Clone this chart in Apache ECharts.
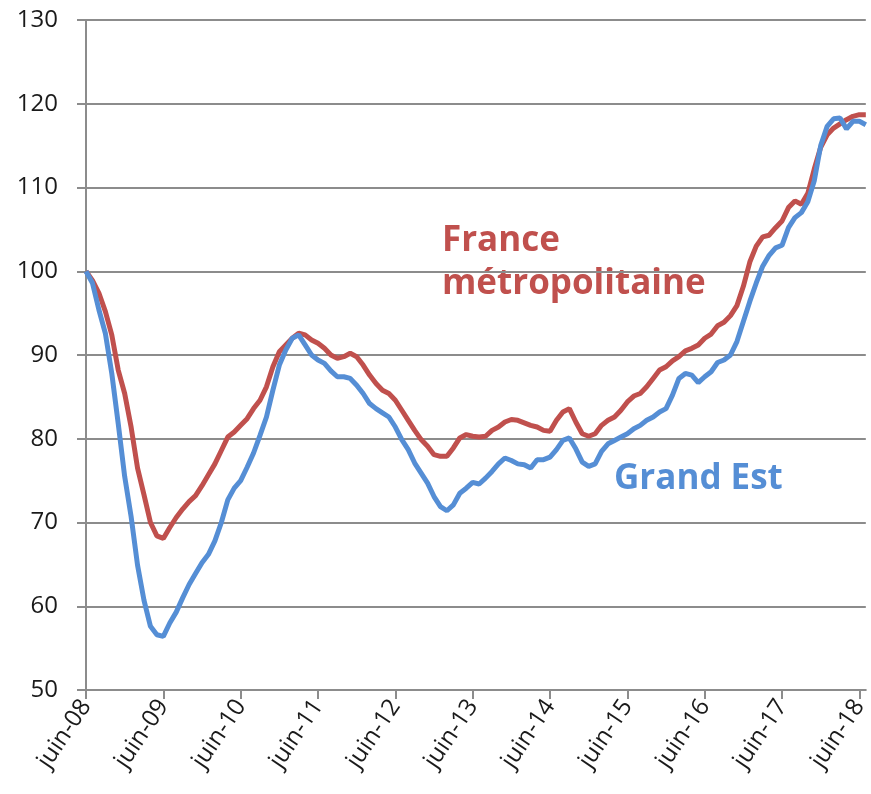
<!DOCTYPE html>
<html>
<head>
<meta charset="utf-8">
<script src="https://cdn.jsdelivr.net/npm/echarts@6/dist/echarts.min.js"></script>
<style>
html,body{margin:0;padding:0;background:#fff;}
#chart{width:871px;height:794px;}
</style>
</head>
<body>
<div id="chart"></div>
<script>
// Month names and years used to build the category labels (juin-08 .. juil-18)
var monthNames = ['janv','févr','mars','avr','mai','juin','juil','août','sept','oct','nov','déc'];
var startYear = 2008, startMonth = 5, monthCount = 122;

// France métropolitaine (base 100 = juin-08)
var france = [
100.0, 98.9, 97.4, 95.2, 92.4, 88.2, 85.4, 81.4, 76.5, 73.3, 70.0, 68.4, 68.1,
69.4, 70.6, 71.6, 72.5, 73.2, 74.4, 75.7, 77.0, 78.6, 80.2, 80.8, 81.6,
82.4, 83.6, 84.6, 86.2, 88.6, 90.4, 91.2, 92.0, 92.6, 92.4, 91.8, 91.4,
90.8, 90.0, 89.6, 89.8, 90.2, 89.8, 88.8, 87.6, 86.6, 85.8, 85.4, 84.6,
83.4, 82.2, 81.0, 79.9, 79.1, 78.1, 77.9, 77.9, 78.9, 80.1, 80.5, 80.3,
80.2, 80.3, 81.0, 81.4, 82.0, 82.3, 82.2, 81.9, 81.6, 81.4, 81.0, 80.9,
82.2, 83.2, 83.6, 82.0, 80.6, 80.3, 80.6, 81.6, 82.2, 82.6, 83.4, 84.4,
85.1, 85.4, 86.2, 87.2, 88.2, 88.6, 89.3, 89.8, 90.5, 90.8, 91.2, 92.0,
92.5, 93.5, 93.9, 94.7, 95.9, 98.2, 101.1, 103.0, 104.1, 104.3, 105.2, 106.0,
107.6, 108.4, 108.0, 109.3, 112.2, 114.8, 116.3, 117.1, 117.6, 118.1, 118.5, 118.7,
118.7
];

// Grand Est (base 100 = juin-08)
var grandEst = [
100.0, 98.6, 95.4, 92.6, 87.8, 81.8, 75.5, 70.7, 64.9, 60.7, 57.6, 56.6, 56.4,
58.0, 59.3, 61.0, 62.6, 63.9, 65.2, 66.2, 67.8, 70.0, 72.7, 74.1, 75.0,
76.6, 78.3, 80.4, 82.6, 85.8, 88.8, 90.6, 92.0, 92.4, 91.2, 90.0, 89.4,
89.0, 88.1, 87.4, 87.4, 87.2, 86.4, 85.4, 84.2, 83.6, 83.1, 82.6, 81.4,
79.9, 78.7, 77.1, 75.9, 74.7, 73.1, 71.9, 71.4, 72.1, 73.5, 74.1, 74.8,
74.6, 75.3, 76.1, 77.0, 77.7, 77.4, 77.0, 76.9, 76.5, 77.5, 77.5, 77.8,
78.7, 79.8, 80.1, 78.8, 77.2, 76.7, 77.0, 78.5, 79.4, 79.8, 80.2, 80.6,
81.2, 81.6, 82.2, 82.6, 83.2, 83.6, 85.2, 87.2, 87.8, 87.6, 86.7, 87.4,
88.0, 89.1, 89.4, 90.0, 91.6, 94.0, 96.4, 98.6, 100.6, 101.9, 102.8, 103.1,
105.2, 106.4, 107.0, 108.3, 110.8, 115.0, 117.3, 118.2, 118.3, 117.0, 117.9, 117.9,
117.5
];

var yMin = 50, yMax = 130, yStep = 10;

var categories = [];
for (var i = 0; i < monthCount; i++) {
  var m = (startMonth + i) % 12;
  var y = startYear + Math.floor((startMonth + i) / 12);
  categories.push(monthNames[m] + '-' + String(y % 100).padStart(2, '0'));
}

var RED = '#C0504D', BLUE = '#558ED5', GRID = '#8c8c8c';
var FONT = '"Open Sans", "Noto Sans", sans-serif';

var chart = echarts.init(document.getElementById('chart'), null, {renderer: 'canvas'});
chart.setOption({
  animation: false,
  backgroundColor: '#fff',
  grid: {left: 86, right: 5, top: 20, bottom: 104, containLabel: false},
  xAxis: {
    type: 'category',
    data: categories,
    boundaryGap: false,
    axisLine: {lineStyle: {color: GRID, width: 2}},
    axisTick: {show: true, interval: 11, length: 9, lineStyle: {color: GRID, width: 2}},
    axisLabel: {
      interval: 11, rotate: 56, margin: 12,
      color: '#1a1a1a', fontSize: 24, fontFamily: FONT
    },
    splitLine: {show: false}
  },
  yAxis: {
    type: 'value',
    min: yMin, max: yMax, interval: yStep,
    axisLine: {show: true, lineStyle: {color: GRID, width: 2}},
    axisTick: {show: true, length: 9, lineStyle: {color: GRID, width: 2}},
    axisLabel: {color: '#1a1a1a', fontSize: 24, fontFamily: FONT, margin: 28},
    splitLine: {show: true, lineStyle: {color: GRID, width: 2}}
  },
  series: [
    {
      name: 'France métropolitaine', type: 'line', data: france,
      showSymbol: false, symbol: 'none', smooth: false,
      lineStyle: {color: RED, width: 5}, z: 3
    },
    {
      name: 'Grand Est', type: 'line', data: grandEst,
      showSymbol: false, symbol: 'none', smooth: false,
      lineStyle: {color: BLUE, width: 5}, z: 4
    }
  ],
  graphic: [
    {type: 'text', left: 442, top: 224, style: {text: 'France', fill: RED, font: 'bold 35px ' + FONT}},
    {type: 'text', left: 442, top: 267, style: {text: 'métropolitaine', fill: RED, font: 'bold 35px ' + FONT}},
    {type: 'text', left: 614, top: 462, style: {text: 'Grand Est', fill: BLUE, font: 'bold 35px ' + FONT}}
  ]
});
</script>
</body>
</html>
